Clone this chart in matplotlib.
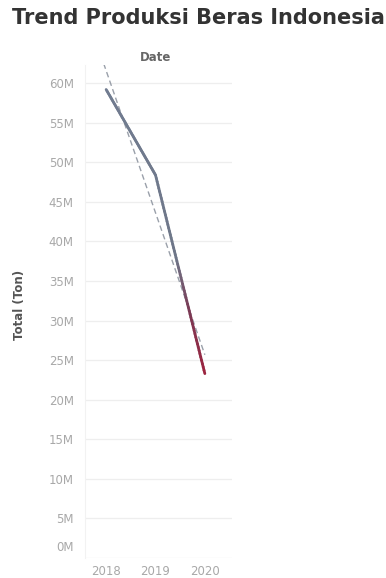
import numpy as np
import matplotlib
matplotlib.use("Agg")
import matplotlib.pyplot as plt
from matplotlib.collections import LineCollection
from matplotlib.colors import LinearSegmentedColormap
from matplotlib.transforms import offset_copy

# Annual rice production (million tonnes)
years = [2018, 2019, 2020]
production_m = [59.2, 48.4, 23.3]
y_ticks_m = [0, 5, 10, 15, 20, 25, 30, 35, 40, 45, 50, 55, 60]
y_tick_labels = [f"{v}M" for v in y_ticks_m]
x_tick_labels = ["2018", "2019", "2020"]

plt.rcParams["font.family"] = ["DejaVu Sans"]

fig = plt.figure(figsize=(3.86, 5.78), dpi=100)
fig.patch.set_facecolor("white")
ax = fig.add_axes([0.220, 0.0346, 0.381, 0.853])

x = np.array(years, dtype=float)
y = np.array(production_m, dtype=float)

# Gradient-coloured production line (colour follows the value)
xs, ys = [], []
for i in range(len(x) - 1):
    t = np.linspace(0, 1, 60, endpoint=False)
    xs.extend(x[i] + (x[i + 1] - x[i]) * t)
    ys.extend(y[i] + (y[i + 1] - y[i]) * t)
xs.append(x[-1]); ys.append(y[-1])
xs = np.array(xs); ys = np.array(ys)
pts = np.column_stack([xs, ys]).reshape(-1, 1, 2)
segs = np.concatenate([pts[:-1], pts[1:]], axis=1)
cmap = LinearSegmentedColormap.from_list(
    "prod", [(0.0, "#9c2540"), (0.22, "#7a3a55"), (0.40, "#6e7688"), (1.0, "#717c90")])
lc = LineCollection(segs, cmap=cmap, norm=plt.Normalize(y.min(), y.max()),
                    linewidths=2.0, capstyle="round", zorder=3)
lc.set_array((ys[:-1] + ys[1:]) / 2)
ax.add_collection(lc)

# Linear trend line
slope, intercept = np.polyfit(x, y, 1)
tx = np.array([x[0] - 0.05, x[-1]])
ax.plot(tx, slope * tx + intercept, linestyle=(0, (4, 2.5)), color="#9aa0aa",
        linewidth=1.0, zorder=2)

ax.set_xlim(2017.57, 2020.55)
ax.set_ylim(0, 62.3)

ax.set_yticks(y_ticks_m)
ax.set_yticklabels(y_tick_labels)
ax.set_xticks(years)
ax.set_xticklabels(x_tick_labels)

ax.grid(axis="y", color="#eeeeee", linewidth=0.9)
ax.set_axisbelow(True)
for s in ["top", "right", "bottom"]:
    ax.spines[s].set_visible(False)
ax.spines["left"].set_color("#f2f2f2")
ax.tick_params(axis="both", length=0, labelsize=8.5, labelcolor="#a8a8a8")
ax.tick_params(axis="y", pad=8)
ax.tick_params(axis="x", pad=5)

# Keep the bottom tick label inside the pane
lbl0 = ax.get_yticklabels()[0]
lbl0.set_transform(offset_copy(lbl0.get_transform(), fig=fig, x=0, y=12, units="dots"))

ax.set_ylabel("Total (Ton)", fontsize=8.5, fontweight="bold", color="#555555")
ax.yaxis.set_label_coords(-0.40, 0.513)

fig.text(0.402, 0.901, "Date", fontsize=8.5, fontweight="bold", color="#666666",
         ha="center", va="center")
fig.text(0.03, 0.968, "Trend Produksi Beras Indonesia", fontsize=15, fontweight="bold",
         color="#333333", ha="left", va="center")

fig.savefig("out.png", dpi=100, facecolor="white")
